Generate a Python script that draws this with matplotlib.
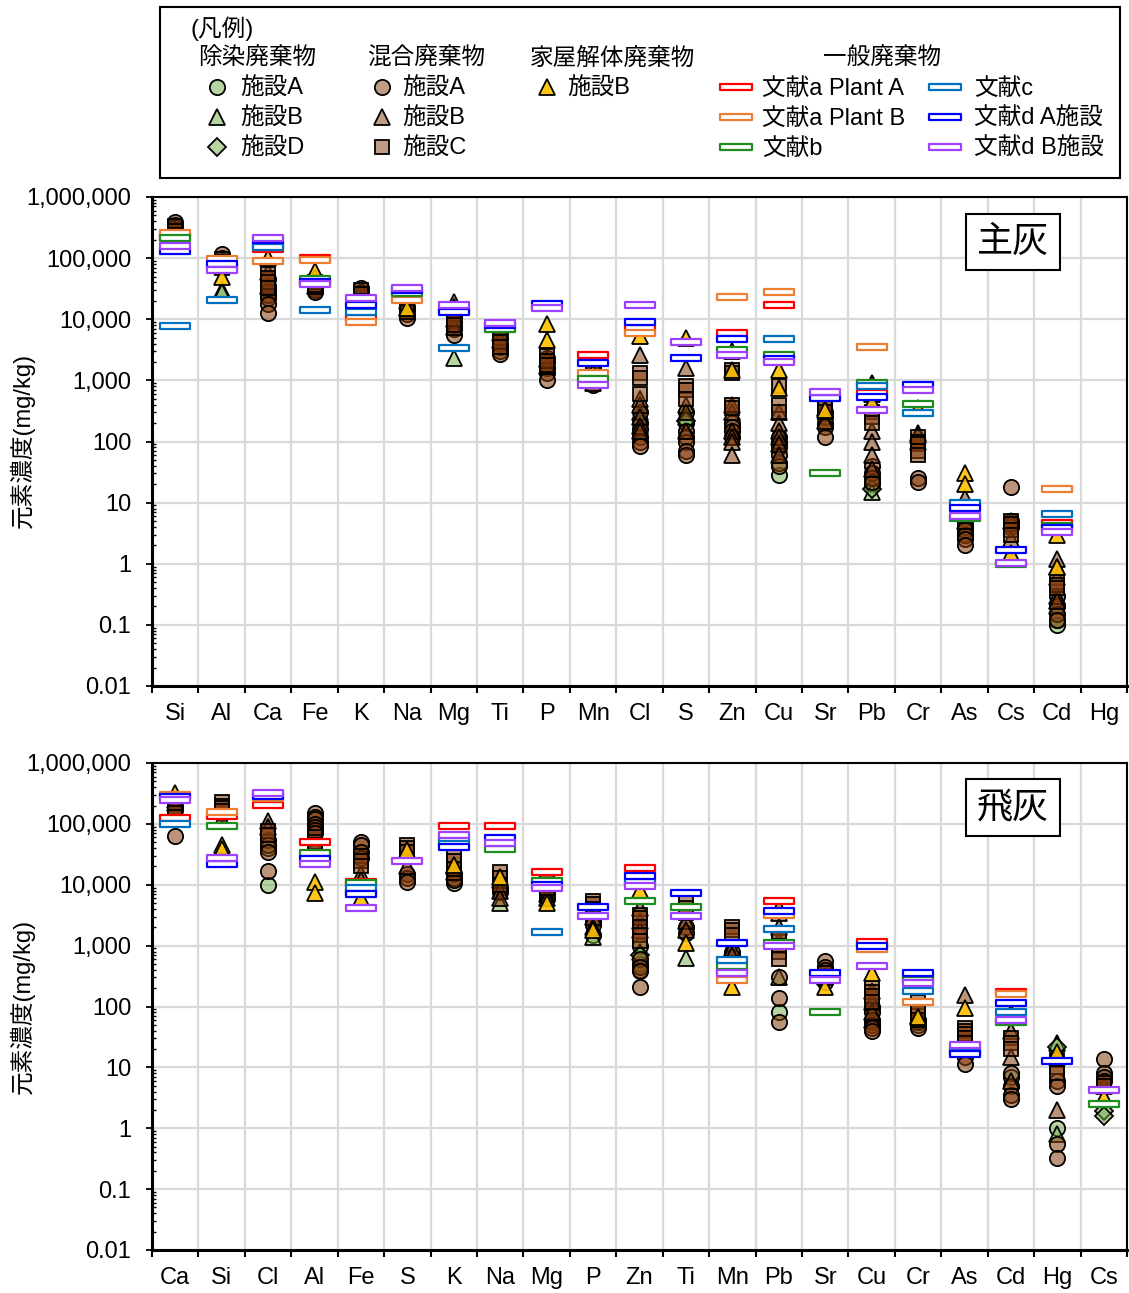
import numpy as np
import matplotlib.pyplot as plt
from matplotlib.path import Path
from matplotlib.colors import to_rgba
from matplotlib.ticker import FixedLocator, FixedFormatter, LogLocator, NullFormatter

plt.rcParams['font.family'] = ['Liberation Sans', 'Noto Sans CJK JP']

W, H = 1129, 1293
nan = np.nan

# ---------------- data: 主灰 (bottom ash) ----------------
top_elements = ["Si", "Al", "Ca", "Fe", "K", "Na", "Mg", "Ti", "P", "Mn", "Cl",
                "S", "Zn", "Cu", "Sr", "Pb", "Cr", "As", "Cs", "Cd", "Hg"]

# 除染廃棄物
top_dec_A = {"Ca": [25000], "Mn": [1100], "Cl": [200], "S": [300, 200], "Cu": [28, 45],
             "Pb": [20], "As": [3], "Cd": [0.1, 0.12]}
top_dec_B = {"Al": [30000, 28000], "K": [14000], "Mg": [2300], "Cl": [300], "S": [250],
             "Pb": [850, 15], "Cr": [140], "Cd": [0.2]}
top_dec_D = {"Mn": [1800], "S": [220], "Pb": [17]}
# 混合廃棄物
top_mix_A = {"Si": [390000, 350000, 320000, 290000, 260000],
             "Al": [115000, 100000, 90000, 80000, 72000],
             "Ca": [45000, 35000, 30000, 25000, 22000, 18000, 12500],
             "Fe": [38000, 33000, 30000, 28000],
             "K": [32000, 28000, 25000, 20000, 16000, 12000],
             "Na": [25000, 20000, 16000, 14000, 12000, 10500],
             "Mg": [11000, 9000, 8000, 7000, 5500],
             "Ti": [6000, 5000, 4000, 3500, 3000, 2700],
             "P": [2300, 2000, 1600, 1300, 1000],
             "Mn": [1600, 1300, 1000, 850],
             "Cl": [300, 160, 120, 100, 85], "S": [150, 120, 100, 70, 60],
             "Zn": [200, 170, 150, 120], "Cu": [120, 100, 80, 60, 40],
             "Sr": [300, 250, 200, 170, 120], "Pb": [40, 30, 25, 22], "Cr": [25, 22],
             "As": [4.5, 4, 3.5, 3, 2.5, 2], "Cs": [18, 5, 4.5, 4], "Cd": [0.3, 0.2, 0.15, 0.12]}
top_mix_B = {"Si": [300000, 250000, 220000], "Al": [85000, 75000], "Ca": [60000, 35000],
             "Fe": [50000, 35000], "K": [28000, 22000], "Na": [20000, 15000],
             "Mg": [19000, 10000, 7500], "Ti": [6000, 4500], "P": [2200, 1700],
             "Mn": [1200, 900], "Cl": [2600, 500, 400, 250, 180, 150], "S": [1600, 400, 300, 150],
             "Zn": [400, 300, 150, 120, 100, 60], "Cu": [300, 200, 150, 120, 90, 60], "Sr": [350, 220],
             "Pb": [900, 600, 150, 100, 60, 35], "Cr": [130, 100], "As": [12, 7, 5],
             "Cs": [2.5, 5], "Cd": [1.2, 0.9, 0.6, 0.3, 0.25]}
top_mix_C = {"Si": [340000, 280000, 240000, 200000], "Al": [95000, 85000, 70000],
             "Ca": [55000, 48000, 40000, 32000], "Fe": [40000, 36000],
             "K": [30000, 26000, 20000, 17000], "Na": [18000, 13000], "Mg": [12000, 10000, 8000],
             "Ti": [5000, 4200, 3500], "P": [2500, 2100, 1800], "Mn": [1300, 1100],
             "Cl": [1300, 1100, 600], "S": [800, 700, 500], "Zn": [1500, 1300, 400, 350],
             "Cu": [800, 400, 300], "Sr": [400, 350, 300], "Pb": [300, 250, 200],
             "Cr": [120, 100, 90, 70, 60], "As": [8, 7, 6], "Cs": [5, 4.5, 3.5, 3],
             "Cd": [0.5, 0.45, 0.4]}
# 家屋解体廃棄物
top_house_B = {"Si": [200000], "Al": [49000], "Ca": [100000], "Fe": [61000], "K": [15000],
               "Na": [15000], "Mg": [16000], "P": [8500, 4500], "Mn": [1300], "Cl": [5300],
               "S": [4900], "Zn": [3000, 1500], "Cu": [1500, 750], "Sr": [330], "Pb": [450],
               "Cr": [350], "As": [30, 20], "Cs": [1.5], "Cd": [3, 0.9]}
# 一般廃棄物 (one value per element)
top_lit_aA = [230000, nan, 140000, 100000, 10500, nan, 14000, nan, nan, 2600, 7200,
              nan, 5900, 17000, nan, 630, nan, nan, nan, 4.6, nan]
top_lit_aB = [260000, 97000, 90000, 93000, 9000, 21000, nan, nan, nan, 1300, 6000,
              nan, 23000, 28000, nan, 3500, nan, nan, nan, 17, nan]
top_lit_b = [215000, 70000, 170000, 45000, nan, 27000, nan, 7000, nan, 1050, nan,
             nan, 3100, 2600, 30, 900, 410, 5.7, 0.98, 4.2, nan]
top_lit_c = [7700, 21000, 150000, 14000, 13000, nan, 3400, nan, nan, nan, nan,
             nan, nan, 4700, nan, 800, 290, 10, nan, 6.5, nan]
top_lit_dA = [130000, 80000, 200000, 41000, 17000, 30000, 13000, 8000, 17700, 1900, 9000,
              2300, 4800, 2200, 520, 540, 830, 8.1, 1.65, 3.8, nan]
top_lit_dB = [160000, 64000, 215000, 38000, 22000, 32000, 17000, 8700, 15000, 850, 17000,
              4200, 2600, 2000, 640, 330, 700, 6, 1.02, 3.3, nan]

# ---------------- data: 飛灰 (fly ash) ----------------
bot_elements = ["Ca", "Si", "Cl", "Al", "Fe", "S", "K", "Na", "Mg", "P", "Zn",
                "Ti", "Mn", "Pb", "Sr", "Cu", "Cr", "As", "Cd", "Hg", "Cs"]

bot_dec_A = {"Cl": [10000, 40000], "Al": [30000], "K": [10500], "Mg": [6000], "P": [1500],
             "Zn": [1000, 500, 400], "Pb": [80], "Cu": [55], "Cr": [50], "Cd": [7], "Hg": [1.0]}
bot_dec_B = {"Na": [5000], "P": [1400], "Zn": [800], "Ti": [630], "Mn": [400], "Pb": [300],
             "Cu": [60], "Hg": [25, 0.8]}
bot_dec_D = {"Zn": [700], "Hg": [22], "Cs": [1.9, 1.6]}
bot_mix_A = {"Ca": [63000, 200000, 170000], "Si": [150000],
             "Cl": [55000, 45000, 35000, 17000],
             "Al": [150000, 130000, 120000, 100000, 90000, 80000, 70000],
             "Fe": [50000, 45000, 35000, 28000], "S": [15000, 13000, 11000],
             "K": [15000, 13000, 12000], "Na": [9000, 7500], "Mg": [8000, 7000], "P": [2500, 2200],
             "Zn": [600, 450, 380, 210], "Ti": [2000, 1600], "Mn": [800, 650],
             "Pb": [300, 140, 55], "Sr": [550, 450, 400, 300, 250],
             "Cu": [100, 80, 60, 50, 45, 40], "Cr": [60, 55, 45], "As": [20, 15, 11.5],
             "Cd": [8, 5, 3.5, 3], "Hg": [6, 5, 0.55, 0.32], "Cs": [13.5, 8, 7, 6]}
bot_mix_B = {"Ca": [250000, 220000], "Si": [120000], "Cl": [110000, 90000], "Al": [45000],
             "Fe": [15000, 12000], "S": [20000], "K": [20000, 16000], "Na": [12000, 8000, 6000],
             "Mg": [7000, 6000], "P": [3000, 2000], "Zn": [4200, 2500, 1800], "Ti": [2500, 1800],
             "Mn": [900, 700], "Pb": [3500, 2000, 1200], "Sr": [300], "Cu": [180, 120, 80],
             "Cr": [70], "As": [155], "Cd": [40, 15, 6], "Hg": [15, 2], "Cs": [5]}
bot_mix_C = {"Ca": [180000, 150000, 130000], "Si": [230000, 200000, 180000, 160000],
             "Cl": [250000, 75000, 65000], "Al": [60000, 50000, 45000],
             "Fe": [30000, 25000, 20000], "S": [45000, 40000, 35000],
             "K": [30000, 25000, 18000], "Na": [16000, 13000, 10000], "Mg": [14000, 11000, 9000],
             "P": [5500, 4800, 4000], "Zn": [3200, 2800, 2000, 1500, 1200],
             "Ti": [5000, 4200, 3500], "Mn": [2000, 1800, 1500], "Pb": [1500, 1300, 1000, 800, 600],
             "Sr": [350, 300], "Cu": [200, 170, 150, 120], "Cr": [120, 90, 80, 60],
             "As": [45, 40, 35, 30, 25], "Cd": [30, 25, 20], "Hg": [13, 10, 8], "Cs": [5.5, 5]}
bot_house_B = {"Ca": [320000], "Si": [45000, 38000], "Al": [11000, 7400], "Fe": [6000],
               "S": [37000], "K": [21000], "Na": [13500], "Mg": [5000], "P": [1800], "Zn": [8300],
               "Ti": [1100], "Mn": [460, 210], "Pb": [4200], "Sr": [210], "Cu": [350], "Cr": [66],
               "As": [95], "Cd": [78], "Hg": [18], "Cs": [3.3]}
bot_lit_aA = [125000, 135000, 205000, 50000, 11000, nan, 93000, 93000, 16000, nan, 19000,
              nan, 380, 5400, nan, 1150, 300, nan, 170, nan, nan]
bot_lit_aB = [300000, 155000, 270000, nan, 7500, nan, nan, nan, nan, nan, nan,
              nan, 270, 3200, nan, 870, 120, nan, 160, nan, nan]
bot_lit_b = [nan, 93000, nan, 33000, 10500, nan, 50000, 39000, 11500, nan, 5400,
             4300, 460, 1100, 80, nan, 270, 19, 55, nan, 2.5]
bot_lit_c = [100000, nan, nan, nan, 9000, nan, 59000, nan, 1700, nan, 11000,
             nan, 580, 1900, nan, nan, 180, 18, 80, nan, nan]
bot_lit_dA = [280000, 22000, 290000, 26000, 7000, nan, 42000, 59000, 10000, 4300, 14000,
              7300, 1100, 3700, 355, 1000, 355, 16.5, 115, 12.5, nan]
bot_lit_dB = [250000, 27000, 320000, 22000, 4200, 25000, 66000, 49000, 9000, 3100, 9700,
              3100, 350, 1000, 270, 470, 240, 23, 60, nan, 4.2]

# ---------------- styles ----------------
DEC = to_rgba('#70AD47', 0.5)
MIX = to_rgba('#843C0C', 0.55)
HOUSE = to_rgba('#FFC000', 0.9)
LIT_COLORS = ['#FF0000', '#ED7D31', '#1E8C1E', '#0070C0', '#0000FF', '#A040FF']
LIT_LABELS = ['文献a Plant A', '文献a Plant B', '文献b', '文献c', '文献d A施設', '文献d B施設']
bar_marker = Path([(-1, -0.2), (1, -0.2), (1, 0.2), (-1, 0.2), (-1, -0.2)],
                  [Path.MOVETO, Path.LINETO, Path.LINETO, Path.LINETO, Path.CLOSEPOLY])

FS = 17
MS = 11


def plot_group(ax, elements, data, marker, face, ms=MS):
    xs, ys = [], []
    for i, el in enumerate(elements):
        for v in data.get(el, []):
            xs.append(i)
            ys.append(v)
    ax.plot(xs, ys, linestyle='none', marker=marker, markersize=ms,
            markerfacecolor=face, markeredgecolor='black', markeredgewidth=1.3, zorder=3)


def draw_panel(ax, elements, dec, mix, house, lit, title):
    plot_group(ax, elements, dec[0], 'o', DEC)
    plot_group(ax, elements, dec[1], '^', DEC)
    plot_group(ax, elements, dec[2], 'D', DEC, ms=9)
    plot_group(ax, elements, mix[0], 'o', MIX)
    plot_group(ax, elements, mix[1], '^', MIX)
    plot_group(ax, elements, mix[2], 's', MIX, ms=10)
    plot_group(ax, elements, house, '^', HOUSE)
    x = np.arange(len(elements))
    for vals, col in zip(lit, LIT_COLORS):
        ax.plot(x, vals, linestyle='none', marker=bar_marker, markersize=21,
                markerfacecolor='white', markeredgecolor=col, markeredgewidth=1.6, zorder=4)

    ax.set_yscale('log')
    ax.set_ylim(0.01, 1e6)
    ax.set_xlim(-0.5, len(elements) - 0.5)
    ax.yaxis.set_major_locator(FixedLocator([10.0 ** k for k in range(-2, 7)]))
    ax.yaxis.set_major_formatter(FixedFormatter(
        ['0.01', '0.1', '1', '10', '100', '1,000', '10,000', '100,000', '1,000,000']))
    ax.yaxis.set_minor_locator(LogLocator(base=10, subs=np.arange(2, 10), numticks=20))
    ax.yaxis.set_minor_formatter(NullFormatter())
    ax.set_xticks(np.arange(-0.5, len(elements)), labels=[])
    ax.set_xticks(x, labels=elements, minor=True)
    ax.tick_params(axis='x', which='major', direction='out', length=5, width=1.5)
    ax.tick_params(axis='x', which='minor', length=0, pad=12, labelsize=FS)
    ax.tick_params(axis='y', which='major', direction='out', length=4, width=1.3,
                   pad=11, labelsize=FS)
    ax.tick_params(axis='y', which='minor', direction='in', length=3, width=1)
    ax.grid(True, which='major', color='#D9D9D9', linewidth=1.6, zorder=0)
    ax.set_axisbelow(True)
    for s in ax.spines.values():
        s.set_linewidth(1.5)
    ax.spines['left'].set_linewidth(2.2)
    ax.spines['bottom'].set_linewidth(2.2)
    ax.text(0.883, 0.908, title, transform=ax.transAxes, ha='center', va='center',
            fontsize=26, zorder=6,
            bbox=dict(boxstyle='square,pad=0.3', facecolor='white', edgecolor='black',
                      linewidth=1.5))


fig = plt.figure(figsize=(W / 100, H / 100), dpi=100)

ax1 = fig.add_axes([152 / W, 1 - 686 / H, 975 / W, 489 / H])
draw_panel(ax1, top_elements, (top_dec_A, top_dec_B, top_dec_D),
           (top_mix_A, top_mix_B, top_mix_C), top_house_B,
           (top_lit_aA, top_lit_aB, top_lit_b, top_lit_c, top_lit_dA, top_lit_dB), '主灰')

ax2 = fig.add_axes([152 / W, 1 - 1250 / H, 975 / W, 487 / H])
draw_panel(ax2, bot_elements, (bot_dec_A, bot_dec_B, bot_dec_D),
           (bot_mix_A, bot_mix_B, bot_mix_C), bot_house_B,
           (bot_lit_aA, bot_lit_aB, bot_lit_b, bot_lit_c, bot_lit_dA, bot_lit_dB), '飛灰')

fig.text(22 / W, 1 - 440 / H, '元素濃度(mg/kg)', rotation=90, ha='center', va='center', fontsize=17)
fig.text(22 / W, 1 - 1006 / H, '元素濃度(mg/kg)', rotation=90, ha='center', va='center', fontsize=17)

# ---------------- legend box (凡例) ----------------
lax = fig.add_axes([160 / W, 1 - 178 / H, 960 / W, 171 / H])
lax.set_xlim(160, 1120)
lax.set_ylim(178, 7)
lax.set_xticks([])
lax.set_yticks([])
for s in lax.spines.values():
    s.set_linewidth(1.5)

TY = 2  # text baseline nudge
lax.text(190, 27 + TY, '(凡例)', fontsize=FS, va='center')
for xh, txt in [(198, '除染廃棄物'), (367, '混合廃棄物'), (530, '家屋解体廃棄物'), (823, '一般廃棄物')]:
    lax.text(xh, 57 + TY, txt, fontsize=FS, va='center')

rows = [87, 117, 147]
for y, mk, ms, lab in zip(rows, ['o', '^', 'D'], [MS, MS, 9], ['施設A', '施設B', '施設D']):
    lax.plot([217], [y], marker=mk, markersize=ms, markerfacecolor=DEC,
             markeredgecolor='black', markeredgewidth=1.3)
    lax.text(240, y + TY, lab, fontsize=FS, va='center')
for y, mk, ms, lab in zip(rows, ['o', '^', 's'], [MS, MS, 10], ['施設A', '施設B', '施設C']):
    lax.plot([382], [y], marker=mk, markersize=ms, markerfacecolor=to_rgba('#843C0C', 0.5),
             markeredgecolor='black', markeredgewidth=1.3)
    lax.text(402, y + TY, lab, fontsize=FS, va='center')
lax.plot([547], [87], marker='^', markersize=MS, markerfacecolor=HOUSE,
         markeredgecolor='black', markeredgewidth=1.3)
lax.text(567, 87 + TY, '施設B', fontsize=FS, va='center')

lit_pos = [(736, 87, 762), (736, 117, 762), (736, 147, 762),
           (945, 87, 974), (945, 117, 974), (945, 147, 974)]
for (xm, y, xt), col, lab in zip(lit_pos, LIT_COLORS, LIT_LABELS):
    lax.plot([xm], [y], marker=bar_marker, markersize=23, markerfacecolor='white',
             markeredgecolor=col, markeredgewidth=1.6)
    lax.text(xt, y + TY, lab, fontsize=FS, va='center')

fig.savefig('out.png', dpi=100)
